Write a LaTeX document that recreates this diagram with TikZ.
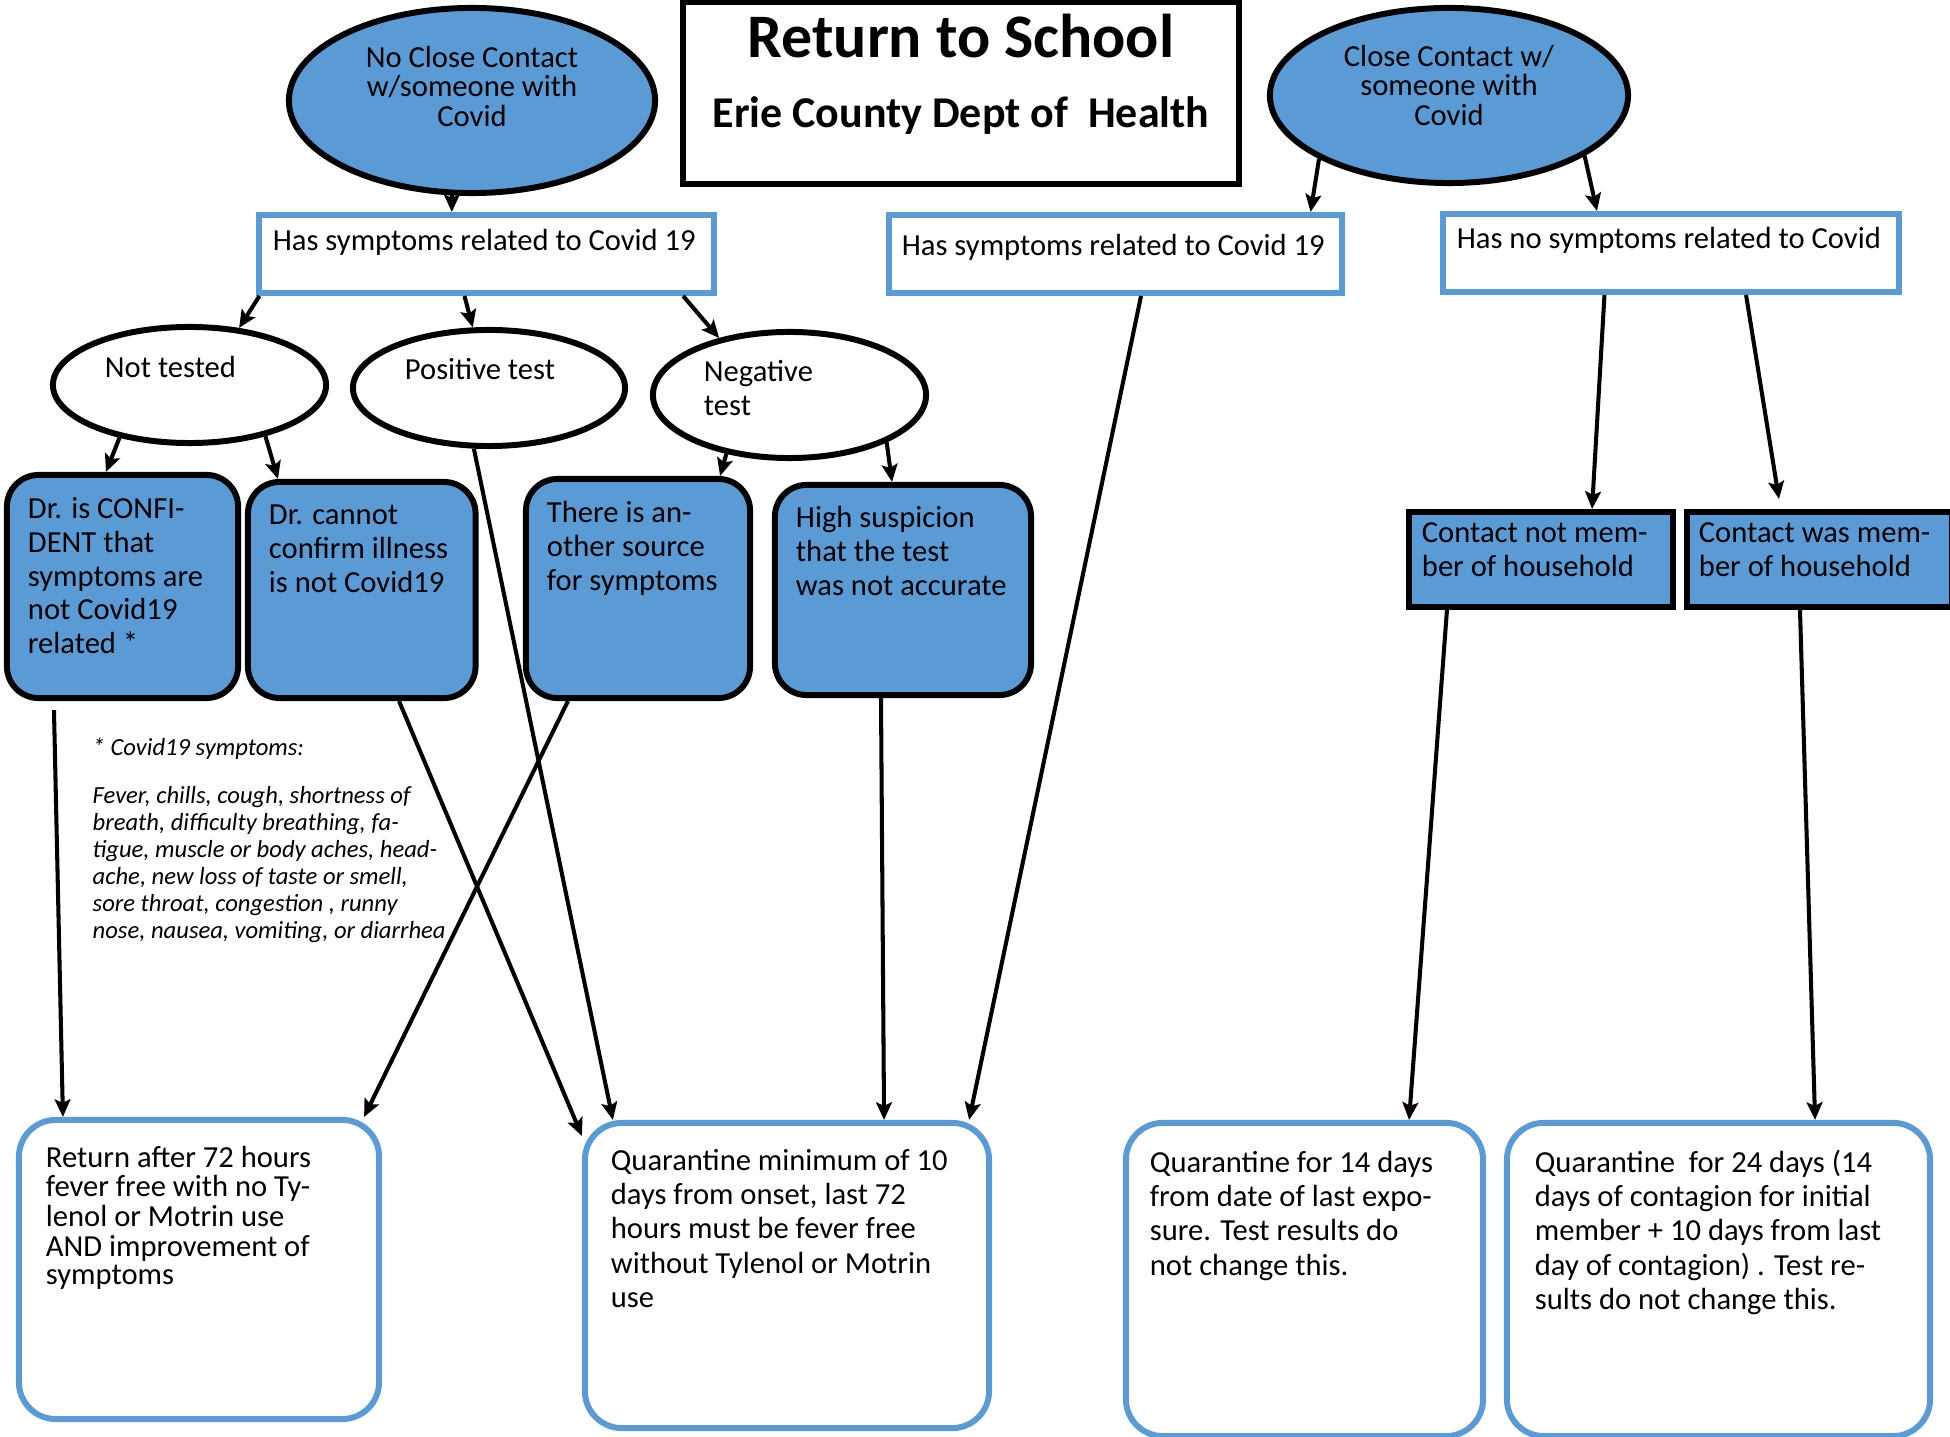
\documentclass[tikz,border=0pt]{standalone}
\usepackage{fontspec}
\setmainfont{Carlito}
\usetikzlibrary{shapes.geometric, arrows.meta}
\definecolor{cblue}{RGB}{91,155,213}
\newcommand\Textblock[3]{%
  \parbox[c][#2][t]{#1}{\begin{tabular}[t]{@{}l@{}}#3\end{tabular}\hss}}
\newcommand\Midblock[3]{%
  \parbox[c][#2][t]{#1}{\centering\begin{tabular}[t]{@{}c@{}}#3\end{tabular}}}

\begin{document}
\begin{tikzpicture}[x=0.01cm, y=-0.01cm,
  >={Stealth[length=5pt, width=4.5pt, inset=1pt]},
  titlebox/.style={rectangle, draw, line width=1.7pt, inner sep=0pt,
    font=\fontsize{17.6}{19.9}\selectfont\bfseries},
  topoval/.style={ellipse, draw, line width=1.7pt, fill=cblue, inner sep=0pt,
    font=\fontsize{8.7}{8.1}\selectfont},
  testoval/.style={ellipse, draw, line width=1.7pt, fill=white, inner sep=0pt,
    font=\fontsize{8.7}{9.5}\selectfont},
  symbox/.style={rectangle, draw=cblue, line width=1.7pt, fill=white, inner sep=0pt,
    font=\fontsize{8.7}{9.6}\selectfont},
  dobox/.style={rectangle, draw, line width=1.7pt, fill=cblue, rounded corners=9pt,
    inner sep=0pt, font=\fontsize{8.7}{9.56}\selectfont},
  housebox/.style={rectangle, draw, line width=1.7pt, fill=cblue, inner sep=0pt,
    font=\fontsize{8.7}{9.65}\selectfont},
  endbox/.style={rectangle, draw=cblue, line width=1.7pt, fill=white, rounded corners=10.5pt,
    inner sep=0pt, font=\fontsize{8.7}{9.8}\selectfont},
  link/.style={->, line width=1.15pt}
]
\useasboundingbox (0,0) rectangle (1950,1437);

\node[titlebox, minimum width=5.56cm, minimum height=1.82cm] (title) at (961,93)
  {\Midblock{5cm}{1.68cm}{Return to School\\ \fontsize{12.5}{19.9}\selectfont Erie County Dept of\ \ Health}};

\node[topoval, minimum width=3.66cm, minimum height=1.85cm] (nocontact) at (472,100.5)
  {\Midblock{2.4cm}{1.09cm}{No Close Contact\\ w/someone with\\ Covid}};
\node[topoval, minimum width=3.58cm, minimum height=1.75cm] (contact) at (1449,95.5)
  {\Midblock{2.4cm}{1.01cm}{Close Contact w/\\ someone with\\ Covid}};

\node[symbox, minimum width=4.55cm, minimum height=0.78cm] (symA) at (486.5,254)
  {\Textblock{4.27cm}{0.55cm}{Has symptoms related to Covid 19}};
\node[symbox, minimum width=4.53cm, minimum height=0.78cm] (symB) at (1115.5,254)
  {\Textblock{4.27cm}{0.45cm}{Has symptoms related to Covid 19}};
\node[symbox, minimum width=4.56cm, minimum height=0.78cm] (nosym) at (1671,253)
  {\Textblock{4.28cm}{0.57cm}{Has no symptoms related to Covid}};

\node[testoval, minimum width=2.73cm, minimum height=1.16cm] (nottested) at (189.5,385)
  {\Textblock{1.69cm}{0.61cm}{Not tested}};
\node[testoval, minimum width=2.72cm, minimum height=1.16cm] (postest) at (489,388)
  {\Textblock{1.68cm}{0.63cm}{Positive test}};
\node[testoval, minimum width=2.73cm, minimum height=1.26cm] (negtest) at (789.5,395)
  {\Textblock{1.71cm}{0.73cm}{Negative\\ test}};

\node[dobox, minimum width=2.31cm, minimum height=2.23cm] (confident) at (122.5,586.5)
  {\Textblock{1.89cm}{1.82cm}{Dr. is CONFI-\\ DENT that\\ symptoms are\\ not Covid19\\ related *}};
\node[dobox, minimum width=2.275cm, minimum height=2.16cm] (cannot) at (361.75,590)
  {\Textblock{1.855cm}{1.77cm}{Dr. cannot\\ confirm illness\\ is not Covid19}};
\node[dobox, minimum width=2.24cm, minimum height=2.19cm] (othersrc) at (638,588.5)
  {\Textblock{1.82cm}{1.78cm}{There is an-\\ other source\\ for symptoms}};
\node[dobox, minimum width=2.56cm, minimum height=2.10cm] (suspicion) at (903,590)
  {\Textblock{2.14cm}{1.71cm}{High suspicion\\ that the test\\ was not accurate}};

\node[housebox, minimum width=2.64cm, minimum height=0.95cm] (notmember) at (1541,559.5)
  {\Textblock{2.38cm}{0.81cm}{Contact not mem-\\ ber of household}};
\node[housebox, minimum width=2.65cm, minimum height=0.95cm] (member) at (1819.5,559.5)
  {\Textblock{2.41cm}{0.81cm}{Contact was mem-\\ ber of household}};

\node[anchor=north west, inner sep=0pt, font=\fontsize{7}{7.7}\selectfont\itshape] (symlist) at (92,736)
  {\begin{tabular}{@{}l@{}}* Covid19 symptoms:\\[5.9pt]
  Fever, chills, cough, shortness of\\ breath, difficulty breathing, fa-\\
  tigue, muscle or body aches, head-\\ ache, new loss of taste or smell,\\
  sore throat, congestion , runny\\ nose, nausea, vomiting, or diarrhea\end{tabular}};

\node[endbox, minimum width=3.60cm, minimum height=2.99cm, font=\fontsize{8.7}{8.1}\selectfont] (ret) at (199,1269.5)
  {\Textblock{3.06cm}{2.47cm}{Return after 72 hours\\ fever free with no Ty-\\ lenol or Motrin use\\ AND improvement of\\ symptoms}};
\node[endbox, minimum width=4.04cm, minimum height=3.05cm] (qmin) at (787,1275.5)
  {\Textblock{3.52cm}{2.59cm}{Quarantine minimum of 10\\ days from onset, last 72\\ hours must be fever free\\ without Tylenol or Motrin\\ use}};
\node[endbox, minimum width=3.57cm, minimum height=3.13cm] (q14) at (1304.5,1279.5)
  {\Textblock{3.09cm}{2.63cm}{Quarantine for 14 days\\ from date of last expo-\\ sure. Test results do\\ not change this.}};
\node[endbox, minimum width=4.23cm, minimum height=3.13cm] (q24) at (1718.5,1279.5)
  {\Textblock{3.67cm}{2.63cm}{Quarantine\ \ for 24 days (14\\ days of contagion for initial\\ member + 10 days from last\\ day of contagion) . Test re-\\ sults do not change this.}};

\draw[link] (nocontact.-102) -- (nocontact.-102 |- symA.north);
\draw[link] ([xshift=0.035cm]symA.south west) -- (nottested.49);
\draw[link] ([xshift=2.085cm]symA.south west) -- (postest.105);
\draw[link] ([xshift=4.27cm]symA.south west) -- (negtest.141);
\draw[link] (nottested.217) -- ([xshift=1.02cm]confident.north west);
\draw[link] (nottested.-34) -- ([xshift=0.33cm]cannot.north west);
\draw[link] (negtest.-137) -- ([xshift=1.97cm]othersrc.north west);
\draw[link] (negtest.-26) -- ([xshift=1.2cm]suspicion.north west);
\draw[link] (contact.-154) -- ([xshift=-0.345cm]symB.north east);
\draw[link] (contact.-24.6) -- ([xshift=1.57cm]nosym.north west);
\draw[link] ([xshift=1.645cm]nosym.south west) -- ([xshift=1.86cm]notmember.north west);
\draw[link] ([xshift=3.06cm]nosym.south west) -- ([xshift=0.95cm, yshift=0.1cm]member.north west);

\draw[link] ([xshift=0.5cm, yshift=-0.09cm]confident.south west) -- ([xshift=0.47cm]ret.north west);
\draw[link] ([xshift=0.45cm]othersrc.south west) -- ([xshift=-0.18cm]ret.north east);
\draw[link] ([xshift=1.54cm]cannot.south west) -- ([yshift=-0.16cm]qmin.north west);
\draw[link] (postest.-104) -- ([xshift=0.31cm]qmin.north west);
\draw[link] ([xshift=1.09cm]suspicion.south west) -- ([xshift=3.02cm]qmin.north west);
\draw[link] ([xshift=2.55cm]symB.south west) -- ([xshift=-0.23cm]qmin.north east);
\draw[link] ([xshift=0.41cm]notmember.south west) -- ([xshift=2.86cm]q14.north west);
\draw[link] ([xshift=1.16cm]member.south west) -- ([xshift=3.11cm]q24.north west);
\end{tikzpicture}
\end{document}
